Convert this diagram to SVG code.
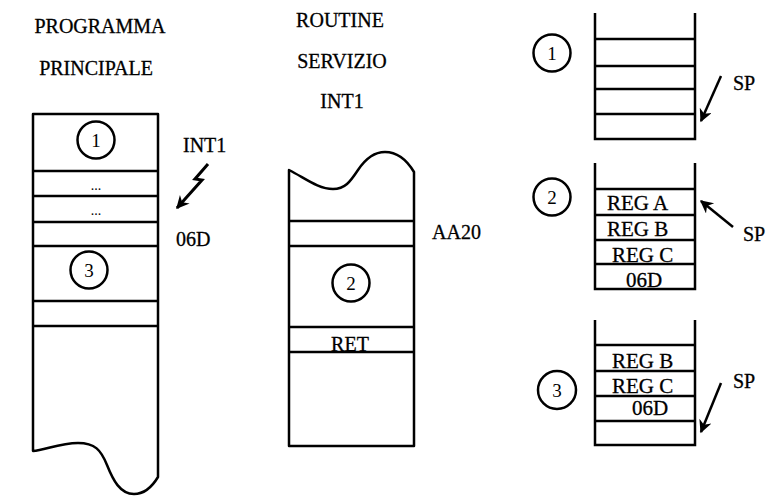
<svg xmlns="http://www.w3.org/2000/svg" width="780" height="496" viewBox="0 0 780 496">
<style>
  .ln { fill: none; stroke: #000; stroke-width: 2.5; }
  .sh { fill: #fff; stroke: #000; stroke-width: 2.5; stroke-linejoin: round; }
  .cir { fill: #fff; stroke: #000; stroke-width: 2.5; }
  .t { font-family: "Liberation Serif", "Times New Roman", serif; font-size: 20px; fill: #000; stroke: #000; stroke-width: 0.3; }
  .r { font-family: "Liberation Serif", "Times New Roman", serif; font-size: 21px; fill: #000; stroke: #000; stroke-width: 0.3; }
  .n { font-family: "Liberation Serif", "Times New Roman", serif; font-size: 19px; fill: #000; text-anchor: middle; }
  .d { font-family: "Liberation Serif", "Times New Roman", serif; font-size: 14px; fill: #000; text-anchor: middle; }
  .m { text-anchor: middle; }
  .arr { fill: none; stroke: #000; stroke-width: 2.5; marker-end: url(#ah); }
  .bolt { fill: none; stroke: #000; stroke-width: 3; stroke-linejoin: miter; marker-end: url(#ah); }
</style>
<defs>
  <marker id="ah" viewBox="0 0 10 10" refX="9" refY="5" markerUnits="userSpaceOnUse" markerWidth="17" markerHeight="13" orient="auto">
    <path d="M0,0 L10,5 L0,10 L3,5 Z" fill="#000"/>
  </marker>
</defs>
<rect width="780" height="496" fill="#fff"/>

<g id="main-program">
  <text class="t m" x="100" y="33">PROGRAMMA</text>
  <text class="t m" x="96" y="75">PRINCIPALE</text>
  <path class="sh" d="M33,114 H158 V477 C152,487 144,494 134,494 C120,494 113,480 107,465 C101,450 95,443 78,443 C60,443 45,450 33,451 Z"/>
  <path class="ln" d="M33,171 H158 M33,196 H158 M33,222 H158 M33,246 H158 M33,301 H158 M33,326 H158"/>
  <circle class="cir" cx="96" cy="140" r="18.5"/>
  <text class="n" x="96" y="147">1</text>
  <text class="d" x="96" y="190">...</text>
  <text class="d" x="96" y="215">...</text>
  <circle class="cir" cx="89" cy="270" r="18.5"/>
  <text class="n" x="89" y="277">3</text>
  <text class="t" x="183" y="152">INT1</text>
  <text class="t" x="176" y="246">06D</text>
</g>

<g id="isr">
  <text class="t m" x="340" y="27">ROUTINE</text>
  <text class="t m" x="342" y="68">SERVIZIO</text>
  <text class="t m" x="342" y="108">INT1</text>
  <path class="sh" d="M289,170 C305,178 318,189 333,189 C345,189 350,182 358,170 C366,158 374,152 385,152 C398,152 408,162 414,172 V446 H289 Z"/>
  <text class="t m" x="350" y="351">RET</text>
  <path class="ln" d="M289,221 H414 M289,246 H414 M289,327 H414 M289,352 H414"/>
  <circle class="cir" cx="351" cy="283" r="18.5"/>
  <text class="n" x="351" y="290">2</text>
  <text class="t" x="432" y="239">AA20</text>
</g>

<g id="stack-1">
  <circle class="cir" cx="552" cy="53" r="18.5"/>
  <text class="n" x="552" y="60">1</text>
  <path class="ln" d="M595,13 V139 H695 V13 M595,39 H695 M595,66 H695 M595,89 H695 M595,114 H695"/>
  <text class="t" x="733" y="90">SP</text>
</g>

<g id="stack-2">
  <circle class="cir" cx="552" cy="197" r="18.5"/>
  <text class="n" x="552" y="204">2</text>
  <text class="r" x="607" y="210">REG A</text>
  <text class="r" x="607" y="236">REG B</text>
  <text class="r" x="612" y="262">REG C</text>
  <text class="r" x="626" y="287">06D</text>
  <path class="ln" d="M595,163 V289 H695 V163 M595,189 H695 M595,215 H695 M595,240 H695 M595,264 H695"/>
  <text class="t" x="743" y="241">SP</text>
</g>

<g id="stack-3">
  <circle class="cir" cx="557" cy="390" r="19"/>
  <text class="n" x="557" y="397">3</text>
  <text class="r" x="612" y="368">REG B</text>
  <text class="r" x="612" y="393">REG C</text>
  <text class="r" x="632" y="415">06D</text>
  <path class="ln" d="M595,320 V445 H695 V320 M595,345 H695 M595,371 H695 M595,396 H695 M595,421 H695"/>
  <text class="t" x="733" y="388">SP</text>
</g>

<g id="connectors">
  <path class="bolt" d="M208,164 L195,179 L202,180 L177,208"/>
  <path class="arr" d="M721,76 L701,121"/>
  <path class="arr" d="M733,227 L701,201"/>
  <path class="arr" d="M721,383 L701,432"/>
</g>
</svg>
